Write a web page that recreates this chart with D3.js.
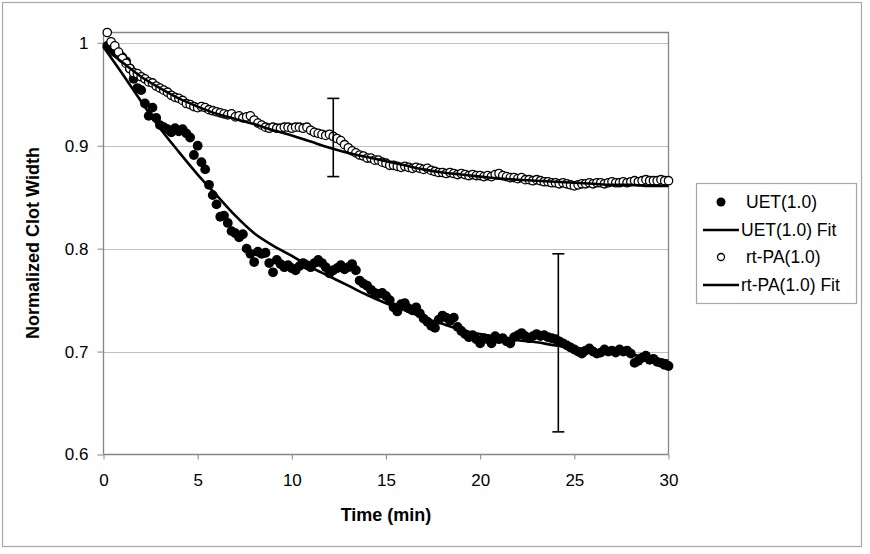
<!DOCTYPE html>
<html><head><meta charset="utf-8">
<script src="https://cdn.jsdelivr.net/npm/d3@7"></script>
<style>
html,body{margin:0;padding:0;background:#fff;}
svg{display:block;font-family:"Liberation Sans",Arial,sans-serif;}
</style></head>
<body>
<svg id="chart" width="870" height="554"></svg>
<script>
// ---- data ----
const times = [0.2,0.4,0.6,0.8,1.0,1.2,1.4,1.6,1.8,2.0,2.2,2.4,2.6,2.8,3.0,3.2,3.4,3.6,3.8,4.0,
4.2,4.4,4.6,4.8,5.0,5.2,5.4,5.6,5.8,6.0,6.2,6.4,6.6,6.8,7.0,7.2,7.4,7.6,7.8,8.0,
8.2,8.4,8.6,8.8,9.0,9.2,9.4,9.6,9.8,10.0,10.2,10.4,10.6,10.8,11.0,11.2,11.4,11.6,11.8,12.0,
12.2,12.4,12.6,12.8,13.0,13.2,13.4,13.6,13.8,14.0,14.2,14.4,14.6,14.8,15.0,15.2,15.4,15.6,15.8,16.0,
16.2,16.4,16.6,16.8,17.0,17.2,17.4,17.6,17.8,18.0,18.2,18.4,18.6,18.8,19.0,19.2,19.4,19.6,19.8,20.0,
20.2,20.4,20.6,20.8,21.0,21.2,21.4,21.6,21.8,22.0,22.2,22.4,22.6,22.8,23.0,23.2,23.4,23.6,23.8,24.0,
24.2,24.4,24.6,24.8,25.0,25.2,25.4,25.6,25.8,26.0,26.2,26.4,26.6,26.8,27.0,27.2,27.4,27.6,27.8,28.0,
28.2,28.4,28.6,28.8,29.0,29.2,29.4,29.6,29.8,30.0];

const uet = [0.997,0.994,0.991,0.989,0.986,0.982,0.975,0.965,0.956,0.954,
0.941,0.929,0.937,0.927,0.920,0.918,0.916,0.913,0.917,0.914,
0.916,0.912,0.908,0.891,0.900,0.884,0.877,0.862,0.852,0.843,
0.831,0.832,0.825,0.817,0.815,0.811,0.814,0.800,0.795,0.787,
0.797,0.795,0.796,0.786,0.777,0.789,0.785,0.782,0.784,0.781,
0.779,0.783,0.786,0.784,0.782,0.786,0.789,0.786,0.782,0.776,
0.779,0.781,0.784,0.780,0.782,0.785,0.779,0.769,0.766,0.764,
0.760,0.757,0.756,0.757,0.754,0.750,0.743,0.739,0.746,0.747,
0.742,0.740,0.743,0.737,0.732,0.729,0.725,0.723,0.731,0.735,
0.733,0.730,0.733,0.724,0.720,0.717,0.714,0.716,0.712,0.708,
0.713,0.712,0.708,0.715,0.712,0.713,0.710,0.708,0.714,0.716,
0.718,0.715,0.713,0.715,0.717,0.715,0.716,0.714,0.713,0.712,
0.710,0.708,0.706,0.704,0.702,0.700,0.698,0.701,0.703,0.700,
0.698,0.699,0.702,0.700,0.701,0.699,0.702,0.700,0.701,0.698,
0.689,0.691,0.694,0.696,0.692,0.693,0.690,0.689,0.687,0.686];

const rtpa = [1.010,1.001,0.997,0.991,0.985,0.980,0.975,0.971,0.970,0.967,
0.965,0.962,0.961,0.958,0.956,0.954,0.952,0.949,0.947,0.946,
0.944,0.941,0.940,0.938,0.937,0.938,0.937,0.935,0.934,0.933,
0.932,0.931,0.930,0.931,0.928,0.929,0.927,0.928,0.929,0.925,
0.922,0.920,0.918,0.917,0.918,0.917,0.917,0.918,0.918,0.917,
0.918,0.918,0.917,0.918,0.915,0.913,0.912,0.911,0.910,0.911,
0.909,0.907,0.905,0.901,0.898,0.895,0.893,0.891,0.890,0.888,
0.888,0.886,0.886,0.884,0.883,0.881,0.881,0.880,0.879,0.880,
0.879,0.878,0.879,0.878,0.877,0.878,0.876,0.875,0.874,0.874,
0.873,0.874,0.873,0.872,0.873,0.872,0.871,0.872,0.871,0.871,
0.870,0.871,0.870,0.872,0.873,0.871,0.870,0.869,0.869,0.868,
0.869,0.867,0.867,0.866,0.867,0.866,0.865,0.865,0.864,0.864,
0.863,0.864,0.863,0.862,0.861,0.862,0.863,0.863,0.864,0.863,
0.864,0.864,0.863,0.864,0.865,0.864,0.864,0.865,0.864,0.865,
0.866,0.865,0.866,0.867,0.866,0.866,0.866,0.867,0.866,0.866];

const fitTimes = [0,1,2,3,4,5,6,7,8,9,10,11,12,13,14,15,16,17,18,19,20,21,22,23,24,25,26,27,28,29,30];
const uetFit = [0.996,0.970,0.943,0.917,0.894,0.872,0.852,0.832,0.815,0.803,0.793,0.782,0.773,0.764,0.755,0.747,
0.740,0.733,0.727,0.721,0.717,0.714,0.711,0.709,0.706,0.704,0.701,0.699,0.697,0.694,0.691];
const rtpaFit = [0.996,0.981,0.967,0.956,0.946,0.938,0.931,0.926,0.921,0.915,0.910,0.904,0.898,0.893,0.889,0.885,
0.881,0.877,0.874,0.872,0.870,0.868,0.867,0.866,0.865,0.864,0.863,0.862,0.862,0.861,0.861];

// error bars: [time, low, high]
const errTimes = [12.2, 24.15];
const errLow = [0.870, 0.622];
const errHigh = [0.946, 0.795];

const xTicks = [0,5,10,15,20,25,30];
const yTicks = [0.6,0.7,0.8,0.9,1];
const legendLabels = ["UET(1.0)","UET(1.0) Fit","rt-PA(1.0)","rt-PA(1.0) Fit"];

// ---- drawing ----
const svg = d3.select("#chart");
const L = 103.5, R = 668.5, T = 32.5, B = 454.5;
const x = d3.scaleLinear().domain([0,30]).range([L,R]);
const y = d3.scaleLinear().domain([0.6,1.01]).range([B,T]);

svg.append("rect").attr("x",2.5).attr("y",2.5).attr("width",859).attr("height",544)
  .attr("fill","#fff").attr("stroke","#a6a6a6").attr("stroke-width",1.2);

// gridlines
svg.append("g").selectAll("line").data(yTicks.filter(d=>d>0.6)).join("line")
  .attr("x1",L).attr("x2",R).attr("y1",d=>Math.round(y(d))+0.5).attr("y2",d=>Math.round(y(d))+0.5)
  .attr("stroke","#c0c0c0").attr("stroke-width",1);

// plot frame (top/right)
svg.append("path").attr("d",`M${L},${T}H${R}V${B}`).attr("fill","none").attr("stroke","#868686").attr("stroke-width",1.3);

// axes
const xAxis = d3.axisBottom(x).tickValues(xTicks).tickSize(5).tickPadding(14).tickFormat(d3.format("d"));
const gx = svg.append("g").attr("transform",`translate(0,${B})`).call(xAxis);
const yAxis = d3.axisLeft(y).tickValues(yTicks).tickSize(6).tickPadding(9).tickFormat(d=>d===1?"1":d3.format(".1f")(d));
const gy = svg.append("g").attr("transform",`translate(${L},0)`).call(yAxis);
[gx,gy].forEach(g=>{
  g.select(".domain").attr("stroke","#868686").attr("stroke-width",1.3);
  g.selectAll(".tick line").attr("stroke","#868686").attr("stroke-width",1);
  g.selectAll("text").attr("fill","#000").style("font-size","17px").style("font-family","'Liberation Sans',Arial,sans-serif");
});
gy.select(".domain").attr("d",`M0,${T}V${B}`);
gx.select(".domain").attr("d",`M${L},0H${R}`);

// axis titles
svg.append("text").attr("x",386).attr("y",521).attr("text-anchor","middle")
  .style("font-size","18px").style("font-weight","bold").text("Time (min)");
svg.append("text").attr("transform","translate(39,243) rotate(-90)").attr("text-anchor","middle")
  .style("font-size","18px").style("font-weight","bold").text("Normalized Clot Width");

const plot = svg.append("g");
const line = d3.line().x((d,i)=>x(fitTimes[i])).y(d=>y(d)).curve(d3.curveMonotoneX);

// UET points
plot.append("g").selectAll("circle").data(uet).join("circle")
  .attr("cx",(d,i)=>x(times[i])).attr("cy",d=>y(d)).attr("r",4.9).attr("fill","#000");
// UET fit
plot.append("path").attr("d",line(uetFit)).attr("fill","none").attr("stroke","#000").attr("stroke-width",2.6);
// rt-PA points
plot.append("g").selectAll("circle").data(rtpa).join("circle")
  .attr("cx",(d,i)=>x(times[i])).attr("cy",d=>y(d)).attr("r",4.2).attr("fill","#fff").attr("stroke","#000").attr("stroke-width",1.3);
// rt-PA fit
plot.append("path").attr("d",line(rtpaFit)).attr("fill","none").attr("stroke","#000").attr("stroke-width",2.6);

// error bars
const eb = plot.append("g").attr("stroke","#000").attr("stroke-width",1.6);
errTimes.forEach((t,i)=>{
  const cx = x(t);
  eb.append("line").attr("x1",cx).attr("x2",cx).attr("y1",y(errLow[i])).attr("y2",y(errHigh[i]));
  eb.append("line").attr("x1",cx-6).attr("x2",cx+6).attr("y1",y(errLow[i])).attr("y2",y(errLow[i]));
  eb.append("line").attr("x1",cx-6).attr("x2",cx+6).attr("y1",y(errHigh[i])).attr("y2",y(errHigh[i]));
});

// legend
const lg = svg.append("g");
lg.append("rect").attr("x",696.5).attr("y",183.5).attr("width",160).attr("height",120)
  .attr("fill","#fff").attr("stroke","#a6a6a6").attr("stroke-width",1.2);
const rowY = [202,230,257,285];
legendLabels.forEach((lab,i)=>{
  const yy = rowY[i];
  if(i===0) lg.append("circle").attr("cx",721).attr("cy",yy).attr("r",4.5).attr("fill","#000");
  if(i===2) lg.append("circle").attr("cx",721).attr("cy",yy).attr("r",3.5).attr("fill","#fff").attr("stroke","#000").attr("stroke-width",1.3);
  if(i===1||i===3) lg.append("line").attr("x1",703).attr("x2",739).attr("y1",yy).attr("y2",yy).attr("stroke","#000").attr("stroke-width",2.6);
  lg.append("text").attr("x",i%2===0?746:741).attr("y",yy+6).style("font-size","17.5px").text(lab);
});
</script>
</body></html>
